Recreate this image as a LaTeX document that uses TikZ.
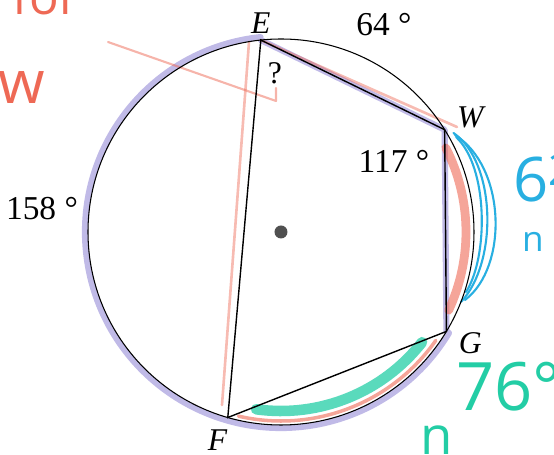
\documentclass[tikz,border=0pt]{standalone}
\usepackage{fontspec}
\setmainfont{Liberation Serif}
\newfontfamily\handfont{Open Sans}
\usetikzlibrary{positioning}
\definecolor{markpurple}{RGB}{150,140,215}
\definecolor{markred}{RGB}{238,105,85}
\definecolor{markcyan}{RGB}{40,175,225}
\definecolor{markgreen}{RGB}{35,205,165}
\definecolor{dotgray}{RGB}{80,80,80}

\begin{document}
\begin{tikzpicture}[
    lbl/.style={font=\fontsize{18}{20}\selectfont, inner sep=0pt},
    num/.style={font=\fontsize{19}{21}\selectfont, inner sep=0pt},
    hand/.style={font=\handfont\fontsize{30}{32}\selectfont, inner sep=0pt},
    chord/.style={line width=0.8pt},
    pencil/.style={line cap=round, line join=round},
]
    \useasboundingbox (-5.62,-4.46) rectangle (5.46,4.64);

    % Points on the circle
    \node[circle, fill=dotgray, inner sep=0pt, minimum size=0.26cm] (O) at (0,0) {};
    \coordinate (E) at (96:3.86);
    \coordinate (W) at (32:3.86);
    \coordinate (G) at (-31:3.86);
    \coordinate (F) at (-106:3.86);

    % Pencil marks
    \draw[pencil, markpurple, line width=3.5pt, opacity=0.6] (96:3.92) arc[start angle=96, end angle=329, radius=3.92] -- (G) -- (W) -- (E);
    \draw[pencil, markred, line width=1.5pt, opacity=0.45] (-0.64,3.80) -- (-1.18,-3.46);
    \draw[pencil, markred, line width=1.2pt, opacity=0.5] (-3.46,3.80) -- (-0.10,2.62) -- (-0.10,2.88);
    \draw[pencil, markred, line width=1.5pt, opacity=0.45] (E) -- (3.52,2.10);
    \draw[pencil, markred, line width=5pt, opacity=0.6] (27:3.70) arc[start angle=27, end angle=-25, radius=3.70];
    \draw[pencil, markred, line width=2pt, opacity=0.6] (-103:3.78) arc[start angle=-103, end angle=-35, radius=3.78];
    \draw[pencil, markgreen, line width=6pt, opacity=0.75] (-98:3.58) arc[start angle=-98, end angle=-38, radius=3.58];
    \draw[pencil, markcyan, line width=1.2pt] (3.48,1.94) .. controls (4.5,1.3) and (4.55,-0.7) .. (3.68,-1.36);
    \draw[pencil, markcyan, line width=1.2pt] (3.45,1.98) .. controls (4.3,1.4) and (4.35,-0.6) .. (3.60,-1.40);
    \draw[pencil, markcyan, line width=1.2pt] (3.50,1.90) .. controls (4.15,1.3) and (4.15,-0.5) .. (3.70,-1.20);

    % Circle and quadrilateral
    \draw[line width=0.6pt] (O.center) circle[radius=3.86];
    \draw[chord] (E) -- (W) -- (G) -- (F) -- cycle;

    % Vertex labels
    \node[lbl, above=0.13cm of E] (lE) {\textit{E}};
    \node[lbl, above right=0.03cm and 0.24cm of W] (lW) {\textit{W}};
    \node[lbl, below right=0.02cm and 0.24cm of G] (lG) {\textit{G}};
    \node[lbl, below left=0.24cm and 0cm of F] (lF) {\textit{F}};

    % Arc and angle labels
    \node[num] (aEW) at (2.06,4.14) {64 °};
    \node[num] (aW) at (2.26,1.42) {117 °};
    \node[num] (aFE) at (-4.78,0.46) {158 °};
    \node[lbl] (aE) at (-0.12,3.18) {?};

    % Handwriting
    \node[hand, markred, font=\handfont\fontsize{28}{30}\selectfont, anchor=base] (hFor) at (-4.70,4.34) {for};
    \node[hand, markred, font=\handfont\fontsize{34}{36}\selectfont] (hW) at (-5.18,2.88) {w};
    \node[hand, markcyan, font=\handfont\fontsize{35}{36}\selectfont, anchor=west] (hWG) at (4.64,1.08) {6\textsuperscript{2}};
    \node[hand, markcyan, font=\handfont\fontsize{20}{22}\selectfont] (hWGn) at (5.04,-0.20) {n};
    \node[hand, markgreen, font=\handfont\fontsize{38}{40}\selectfont, anchor=west] (hGF) at (3.50,-3.10) {76°};
    \node[hand, markgreen] (hGFn) at (3.12,-4.16) {n};
\end{tikzpicture}
\end{document}
